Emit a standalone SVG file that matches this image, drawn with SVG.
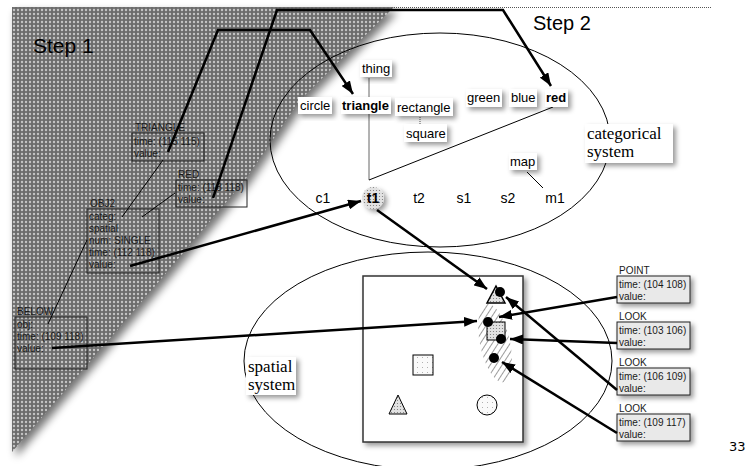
<svg xmlns="http://www.w3.org/2000/svg" width="749" height="466" viewBox="0 0 749 466">
<defs>
<pattern id="dots" width="4" height="4" patternUnits="userSpaceOnUse">
<rect width="4" height="4" fill="#6c6c6c"/>
<circle cx="2" cy="2" r="1.2" fill="#d4d4d4"/>
<circle cx="2" cy="2" r="0.45" fill="#555"/>
</pattern>
<pattern id="lite" width="3" height="3" patternUnits="userSpaceOnUse">
<rect width="3" height="3" fill="#e2e2e2"/>
<circle cx="1.5" cy="1.5" r="0.6" fill="#777"/>
</pattern>
<pattern id="lite2" width="5" height="5" patternUnits="userSpaceOnUse">
<rect width="5" height="5" fill="#fafafa"/>
<circle cx="2.5" cy="2.5" r="0.5" fill="#999"/>
</pattern>
<pattern id="hatch" width="5" height="5" patternUnits="userSpaceOnUse" patternTransform="rotate(45)">
<rect width="5" height="5" fill="#fff"/>
<line x1="0" y1="0" x2="0" y2="5" stroke="#666" stroke-width="1.3"/>
</pattern>
<filter id="sh" x="-30%" y="-30%" width="170%" height="170%">
<feDropShadow dx="3" dy="3" stdDeviation="2.5" flood-color="#000" flood-opacity="0.4"/>
</filter>
<filter id="blur" x="-20%" y="-20%" width="140%" height="140%">
<feGaussianBlur stdDeviation="4"/>
</filter>
<marker id="ah" markerUnits="userSpaceOnUse" markerWidth="14" markerHeight="10" refX="13" refY="5" orient="auto">
<path d="M0,0 L13,5 L0,10 z" fill="#000"/>
</marker>
</defs>
<style>
.sans{font-family:"Liberation Sans",Arial,sans-serif;fill:#000}
.serif{font-family:"Liberation Serif","Times New Roman",serif;fill:#000;font-size:17px}
.lbl{font-size:13px}
.sm{font-family:"Liberation Sans",Arial,sans-serif;font-size:10px;fill:#1a1a1a}
.box{fill:none;stroke:#222;stroke-width:1}
.rbox{fill:#e9e9e9;stroke:#222;stroke-width:1}
.wb{fill:#fff}
.thick{fill:none;stroke:#000;stroke-width:2.5;stroke-linejoin:miter}
.thin{fill:none;stroke:#000;stroke-width:1}
.ell{fill:none;stroke:#000;stroke-width:1}
</style>
<rect width="749" height="466" fill="#fff"/>

<g id="background">
<line x1="390" y1="9" x2="712" y2="9" stroke="#000" stroke-width="3" opacity="0.35" filter="url(#blur)"/>
<line x1="390" y1="7.5" x2="712" y2="7.5" stroke="#555" stroke-width="1" stroke-dasharray="1,1"/>
<path d="M12,7 L394,7 L300,100 L245,180 L150,292 L12,452 Z" fill="#000" opacity="0.55" transform="translate(4,5)" filter="url(#blur)"/>
<path d="M12,7 L394,7 L300,100 L245,180 L150,292 L12,452 Z" fill="url(#dots)"/>
<text class="sans" x="33" y="53" font-size="21">Step 1</text>
<text class="sans" x="533" y="30" font-size="20">Step 2</text>
<text x="729" y="451" font-family="DejaVu Sans,sans-serif" font-size="13" fill="#000">33</text>
</g>

<g id="categorical-system">
<ellipse class="ell" cx="440" cy="140" rx="170" ry="107"/>
</g>
<g id="spatial-system">
<ellipse class="ell" cx="428" cy="361" rx="184" ry="109"/>
<rect x="363" y="276" width="160" height="166" fill="#fff" stroke="#333" stroke-width="1.5" filter="url(#sh)"/>
</g>

<g id="spatial-objects">
<ellipse cx="495" cy="343" rx="15" ry="40" transform="rotate(-12 495 343)" fill="url(#hatch)"/>
<polygon points="487,303 505,303 496,286" fill="url(#lite)" stroke="#000" stroke-width="1.5"/>
<rect x="487" y="322" width="18" height="18" fill="url(#lite)" stroke="#000" stroke-width="1"/>
<rect x="413" y="355" width="20" height="20" fill="url(#lite2)" stroke="#000" stroke-width="1"/>
<polygon points="389,414 407,414 398,395" fill="url(#lite)" stroke="#000" stroke-width="1"/>
<circle cx="487" cy="405" r="10" fill="url(#lite2)" stroke="#000" stroke-width="1"/>
<circle cx="500" cy="292" r="5" fill="#000"/>
<circle cx="488" cy="322" r="5" fill="#000"/>
<circle cx="501" cy="339" r="5" fill="#000"/>
<circle cx="494" cy="358" r="5" fill="#000"/>
</g>

<g id="cat-links">
<line x1="369" y1="78" x2="369" y2="180" stroke="#666" stroke-width="1"/>
<line class="thin" x1="369" y1="180" x2="553" y2="107"/>
<line class="thin" x1="527" y1="172" x2="543" y2="188"/>
<line x1="420" y1="117" x2="420" y2="124" stroke="#555" stroke-width="1" stroke-dasharray="1,1"/>
</g>

<g id="node-thing"><rect class="wb" x="360" y="60" width="32" height="17" filter="url(#sh)"/><text class="sans lbl" x="362" y="73">thing</text></g>
<g id="node-circle"><rect class="wb" x="298" y="97" width="34" height="17" filter="url(#sh)"/><text class="sans lbl" x="300" y="110">circle</text></g>
<g id="node-triangle"><rect class="wb" x="341" y="97" width="50" height="17" filter="url(#sh)"/><text class="sans lbl" x="342" y="110" font-weight="bold">triangle</text></g>
<g id="node-rectangle"><rect class="wb" x="395" y="98" width="58" height="18" filter="url(#sh)"/><text class="sans lbl" x="397" y="112">rectangle</text></g>
<g id="node-square"><rect class="wb" x="404" y="124" width="43" height="18" filter="url(#sh)"/><text class="sans lbl" x="406" y="138">square</text></g>
<g id="node-green"><rect class="wb" x="466" y="89" width="36" height="18" filter="url(#sh)"/><text class="sans lbl" x="467" y="102">green</text></g>
<g id="node-blue"><rect class="wb" x="509" y="89" width="28" height="18" filter="url(#sh)"/><text class="sans lbl" x="511" y="102">blue</text></g>
<g id="node-red"><rect class="wb" x="545" y="89" width="23" height="18" filter="url(#sh)"/><text class="sans lbl" x="546" y="102" font-weight="bold">red</text></g>
<g id="node-map"><rect class="wb" x="509" y="153" width="28" height="17" filter="url(#sh)"/><text class="sans lbl" x="510" y="166">map</text></g>
<g id="node-categorical-label"><rect class="wb" x="585" y="124" width="88" height="39" filter="url(#sh)"/><text class="serif" x="587" y="139">categorical</text><text class="serif" x="587" y="157">system</text></g>
<g id="node-spatial-label"><rect class="wb" x="246" y="357" width="50" height="38" filter="url(#sh)"/><text class="serif" x="248" y="372">spatial</text><text class="serif" x="248" y="390">system</text></g>

<g id="node-c1"><text class="sans" x="323" y="203" font-size="14" text-anchor="middle">c1</text></g>
<g id="node-t1"><circle cx="373" cy="198" r="11" fill="url(#lite)" filter="url(#sh)"/><text class="sans" x="373" y="203" font-size="14" font-weight="bold" text-anchor="middle">t1</text></g>
<g id="node-t2"><text class="sans" x="419" y="203" font-size="14" text-anchor="middle">t2</text></g>
<g id="node-s1"><text class="sans" x="464" y="203" font-size="14" text-anchor="middle">s1</text></g>
<g id="node-s2"><text class="sans" x="508" y="203" font-size="14" text-anchor="middle">s2</text></g>
<g id="node-m1"><text class="sans" x="555" y="203" font-size="14" text-anchor="middle">m1</text></g>

<g id="node-TRIANGLE">
<text class="sm" x="135" y="131">TRIANGLE</text>
<rect class="box" x="132" y="133" width="72" height="28"/>
<text class="sm" x="134" y="145">time: (115 115)</text>
<text class="sm" x="134" y="157">value:</text>
</g>
<g id="node-RED">
<text class="sm" x="178" y="178">RED</text>
<rect class="box" x="176" y="180" width="71" height="27"/>
<text class="sm" x="178" y="191">time: (118 118)</text>
<text class="sm" x="178" y="203">value:</text>
</g>
<g id="node-OBJ2">
<text class="sm" x="90" y="207">OBJ2</text>
<rect class="box" x="87" y="209" width="72" height="64"/>
<text class="sm" x="89" y="220">categ:</text>
<text class="sm" x="89" y="232">spatial</text>
<text class="sm" x="89" y="244">num: SINGLE</text>
<text class="sm" x="89" y="256">time: (112 118)</text>
<text class="sm" x="89" y="268">value:</text>
</g>
<g id="node-BELOW">
<text class="sm" x="17" y="315">BELOW</text>
<rect class="box" x="15" y="317" width="72" height="52"/>
<text class="sm" x="17" y="328">obj:</text>
<text class="sm" x="17" y="340">time: (109 118)</text>
<text class="sm" x="17" y="352">value:</text>
</g>

<g id="node-POINT">
<text class="sm" x="619" y="274">POINT</text>
<rect class="rbox" x="617" y="276" width="73" height="27" filter="url(#sh)"/>
<text class="sm" x="619" y="288">time: (104 108)</text>
<text class="sm" x="619" y="300">value:</text>
</g>
<g id="node-LOOK1">
<text class="sm" x="619" y="320">LOOK</text>
<rect class="rbox" x="617" y="322" width="73" height="27" filter="url(#sh)"/>
<text class="sm" x="619" y="334">time: (103 106)</text>
<text class="sm" x="619" y="346">value:</text>
</g>
<g id="node-LOOK2">
<text class="sm" x="619" y="366">LOOK</text>
<rect class="rbox" x="617" y="368" width="73" height="27" filter="url(#sh)"/>
<text class="sm" x="619" y="380">time: (106 109)</text>
<text class="sm" x="619" y="392">value:</text>
</g>
<g id="node-LOOK3">
<text class="sm" x="619" y="412">LOOK</text>
<rect class="rbox" x="617" y="414" width="73" height="27" filter="url(#sh)"/>
<text class="sm" x="619" y="426">time: (109 117)</text>
<text class="sm" x="619" y="438">value:</text>
</g>

<g id="connectors">
<line class="thin" x1="122" y1="217" x2="163" y2="160"/>
<line class="thin" x1="142" y1="217" x2="175" y2="193"/>
<line class="thin" x1="87" y1="240" x2="48" y2="324"/>
<polyline class="thick" points="213,198 277,10 503,10 551,86" marker-end="url(#ah)"/>
<polyline class="thick" points="168,152 218,30 310,30 353,94" marker-end="url(#ah)"/>
<line class="thick" x1="130" y1="266" x2="361" y2="201" marker-end="url(#ah)"/>
<line class="thick" x1="377" y1="210" x2="487" y2="289" marker-end="url(#ah)"/>
<line class="thick" x1="52" y1="348" x2="477" y2="321" marker-end="url(#ah)"/>
<line class="thick" x1="617" y1="297" x2="499" y2="317" marker-end="url(#ah)"/>
<line class="thick" x1="617" y1="343" x2="510" y2="339" marker-end="url(#ah)"/>
<line class="thick" x1="617" y1="390" x2="506" y2="297" marker-end="url(#ah)"/>
<line class="thick" x1="617" y1="433" x2="502" y2="362" marker-end="url(#ah)"/>
</g>
</svg>
